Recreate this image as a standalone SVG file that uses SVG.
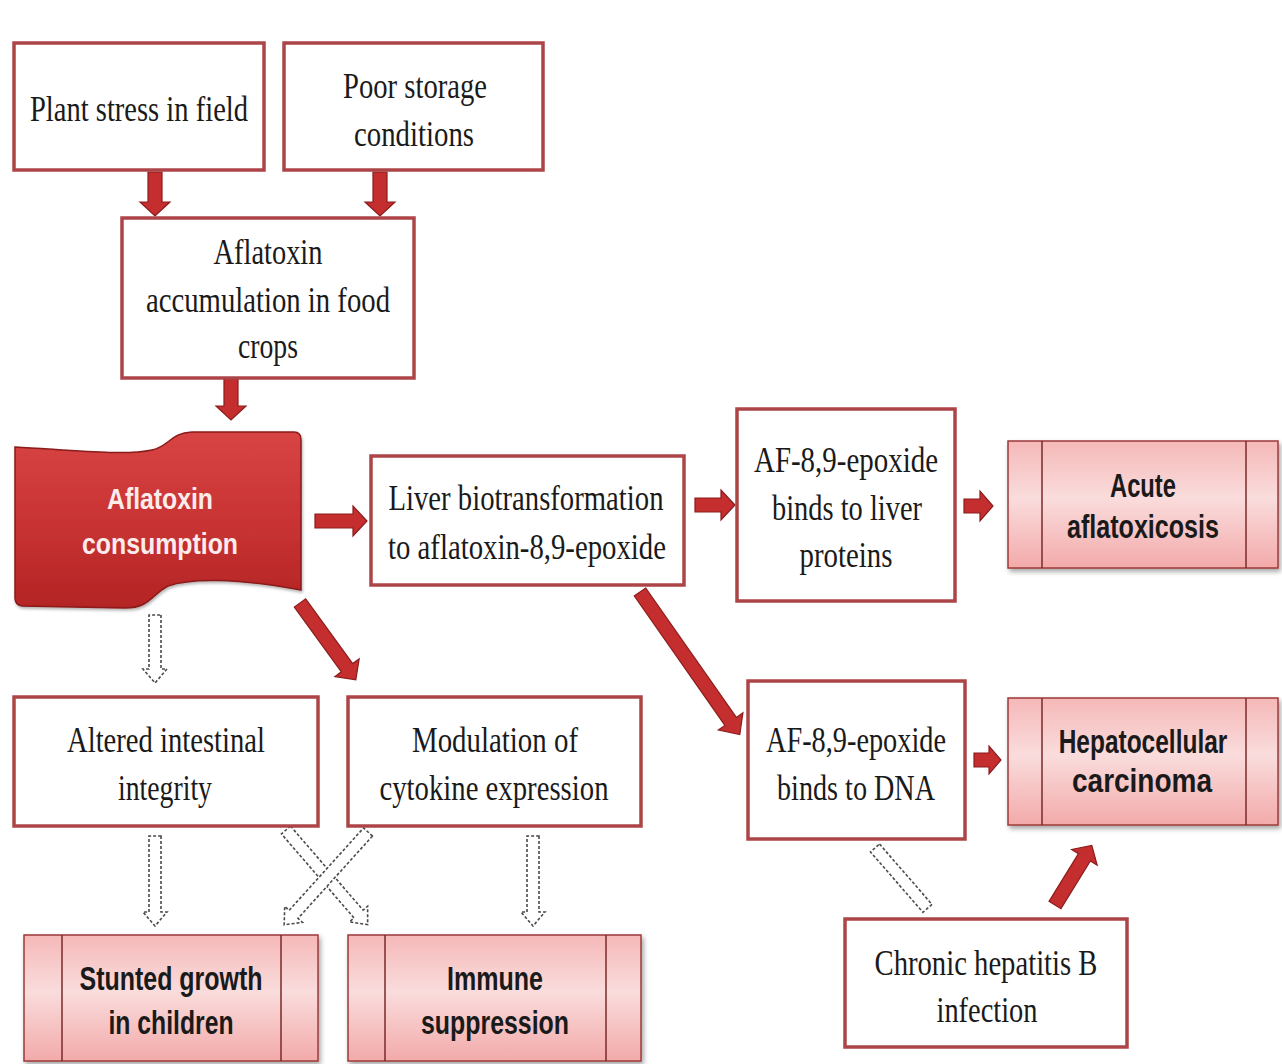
<svg xmlns="http://www.w3.org/2000/svg" width="1282" height="1064" viewBox="0 0 1282 1064">
<defs>
<linearGradient id="pink" x1="0" y1="0" x2="0" y2="1">
<stop offset="0" stop-color="#f5b8b8"/>
<stop offset="0.45" stop-color="#fadcdc"/>
<stop offset="1" stop-color="#f3aaaa"/>
</linearGradient>
<linearGradient id="banner" x1="0" y1="0" x2="0" y2="1">
<stop offset="0" stop-color="#d84444"/>
<stop offset="0.5" stop-color="#c93333"/>
<stop offset="1" stop-color="#b42424"/>
</linearGradient>
<filter id="sh" x="-10%" y="-10%" width="125%" height="130%">
<feDropShadow dx="2" dy="3" stdDeviation="2.5" flood-color="#000" flood-opacity="0.35"/>
</filter>
<filter id="sh2" x="-10%" y="-10%" width="125%" height="130%">
<feDropShadow dx="1" dy="2" stdDeviation="1.5" flood-color="#000" flood-opacity="0.3"/>
</filter>
</defs>
<style>
.box{fill:#fff;stroke:#ad4447;stroke-width:3.5;}
.pbox{fill:url(#pink);stroke:#9c3a3a;stroke-width:1.5;}
.pline{stroke:#7a2a2a;stroke-width:1.5;}
.t{font-family:"Liberation Serif","Times New Roman",serif;font-size:36px;fill:#1a1a1a;text-anchor:middle;}
.b{font-family:"Liberation Sans",Arial,sans-serif;font-weight:bold;font-size:34px;fill:#1a1a1a;text-anchor:middle;}
.w{font-family:"Liberation Sans",Arial,sans-serif;font-weight:bold;font-size:30px;fill:#fbecec;text-anchor:middle;}
.ra{fill:#c42e2e;stroke:#8c1c1c;stroke-width:1.2;}
.da{fill:#fff;stroke:#4a4a4a;stroke-width:1.6;stroke-dasharray:3 2;}
</style>
<rect width="1282" height="1064" fill="#fff"/>

<g id="connectors">
<path class="ra" transform="translate(155,172) rotate(90)" d="M0,-7 H30 V-15 L44,0 L30,15 V7 H0 Z"/>
<path class="ra" transform="translate(380,172) rotate(90)" d="M0,-7 H30 V-15 L44,0 L30,15 V7 H0 Z"/>
<path class="ra" transform="translate(231,379) rotate(90)" d="M0,-7 H27 V-15 L41,0 L27,15 V7 H0 Z"/>
<path class="ra" transform="translate(315,521)" d="M0,-7 H38 V-15 L52,0 L38,15 V7 H0 Z"/>
<path class="ra" transform="translate(695,505)" d="M0,-7 H26 V-15 L40,0 L26,15 V7 H0 Z"/>
<path class="ra" transform="translate(964,506)" d="M0,-7 H16 V-15 L29,0 L16,15 V7 H0 Z"/>
<path class="ra" transform="translate(974,760)" d="M0,-7 H15 V-14 L27,0 L15,14 V7 H0 Z"/>
<path class="ra" transform="translate(640,592) rotate(55)" d="M0,-7 H158 V-15 L174,0 L158,15 V7 H0 Z"/>
<path class="ra" transform="translate(300,603) rotate(54)" d="M0,-7 H80 V-15 L95,0 L80,15 V7 H0 Z"/>
<path class="ra" transform="translate(1055,905) rotate(-58.3)" d="M0,-7 H56 V-15 L70,0 L56,15 V7 H0 Z"/>
<path class="da" transform="translate(155,615) rotate(90)" d="M0,-6 H54 V-12 L68,0 L54,12 V6 H0 Z"/>
<path class="da" transform="translate(155,836) rotate(90)" d="M0,-6 H76 V-12 L90,0 L76,12 V6 H0 Z"/>
<path class="da" transform="translate(533,836) rotate(90)" d="M0,-6 H76 V-12 L90,0 L76,12 V6 H0 Z"/>
<path class="da" transform="translate(286,830) rotate(49.2)" d="M0,-6 H111 V-12 L125,0 L111,12 V6 H0 Z"/>
<path class="da" transform="translate(368,832) rotate(132.1)" d="M0,-6 H111 V-12 L125,0 L111,12 V6 H0 Z"/>
<path class="da" transform="translate(875,848) rotate(49)" d="M0,-6 H80 V6 H0 Z"/>
</g>

<g id="plant-stress">
<rect class="box" x="14" y="43" width="250" height="127"/>
<text class="t" x="139" y="121" textLength="218" lengthAdjust="spacingAndGlyphs">Plant stress in field</text>
</g>
<g id="poor-storage">
<rect class="box" x="284" y="43" width="259" height="127"/>
<text class="t" x="415" y="98" textLength="144" lengthAdjust="spacingAndGlyphs">Poor storage</text>
<text class="t" x="414" y="146" textLength="120" lengthAdjust="spacingAndGlyphs">conditions</text>
</g>
<g id="accumulation">
<rect class="box" x="122" y="218" width="292" height="160"/>
<text class="t" x="268" y="264" textLength="109" lengthAdjust="spacingAndGlyphs">Aflatoxin</text>
<text class="t" x="268" y="312" textLength="244" lengthAdjust="spacingAndGlyphs">accumulation in food</text>
<text class="t" x="268" y="358" textLength="60" lengthAdjust="spacingAndGlyphs">crops</text>
</g>
<g id="consumption">
<path filter="url(#sh2)" fill="url(#banner)" stroke="#8a1a1a" stroke-width="1.5" d="M15,447 C70,450 125,456 152,450 C170,446 170,433 192,432 L294,432 Q301,432 301,440 L301,590 C235,578 190,578 168,586 C152,594 150,608 125,608 L22,606 Q15,605 15,598 Z"/>
<text class="w" x="160" y="509" textLength="106" lengthAdjust="spacingAndGlyphs">Aflatoxin</text>
<text class="w" x="160" y="554" textLength="156" lengthAdjust="spacingAndGlyphs">consumption</text>
</g>
<g id="liver">
<rect class="box" x="371" y="456" width="313" height="129"/>
<text class="t" x="526" y="510" textLength="275" lengthAdjust="spacingAndGlyphs">Liver biotransformation</text>
<text class="t" x="527" y="559" textLength="278" lengthAdjust="spacingAndGlyphs">to aflatoxin-8,9-epoxide</text>
</g>
<g id="proteins">
<rect class="box" x="737" y="409" width="218" height="192"/>
<text class="t" x="846" y="472" textLength="184" lengthAdjust="spacingAndGlyphs">AF-8,9-epoxide</text>
<text class="t" x="847" y="520" textLength="150" lengthAdjust="spacingAndGlyphs">binds to liver</text>
<text class="t" x="846" y="567" textLength="93" lengthAdjust="spacingAndGlyphs">proteins</text>
</g>
<g id="acute">
<rect class="pbox" filter="url(#sh)" x="1008" y="441" width="270" height="127"/>
<line class="pline" x1="1042" y1="441" x2="1042" y2="568"/>
<line class="pline" x1="1246" y1="441" x2="1246" y2="568"/>
<text class="b" x="1143" y="497" textLength="66" lengthAdjust="spacingAndGlyphs">Acute</text>
<text class="b" x="1143" y="538" textLength="152" lengthAdjust="spacingAndGlyphs">aflatoxicosis</text>
</g>
<g id="dna">
<rect class="box" x="748" y="681" width="217" height="158"/>
<text class="t" x="856" y="752" textLength="180" lengthAdjust="spacingAndGlyphs">AF-8,9-epoxide</text>
<text class="t" x="856" y="800" textLength="158" lengthAdjust="spacingAndGlyphs">binds to DNA</text>
</g>
<g id="hcc">
<rect class="pbox" filter="url(#sh)" x="1008" y="698" width="270" height="127"/>
<line class="pline" x1="1042" y1="698" x2="1042" y2="825"/>
<line class="pline" x1="1246" y1="698" x2="1246" y2="825"/>
<text class="b" transform="translate(1143,753) scale(0.72,1)" x="0" y="0">Hepatocellular</text>
<text class="b" x="1142" y="792" textLength="140" lengthAdjust="spacingAndGlyphs">carcinoma</text>
</g>
<g id="hepatitis">
<rect class="box" x="845" y="919" width="282" height="128"/>
<text class="t" x="986" y="975" textLength="223" lengthAdjust="spacingAndGlyphs">Chronic hepatitis B</text>
<text class="t" x="987" y="1022" textLength="101" lengthAdjust="spacingAndGlyphs">infection</text>
</g>
<g id="intestinal">
<rect class="box" x="14" y="697" width="304" height="129"/>
<text class="t" x="166" y="752" textLength="198" lengthAdjust="spacingAndGlyphs">Altered intestinal</text>
<text class="t" x="165" y="800" textLength="94" lengthAdjust="spacingAndGlyphs">integrity</text>
</g>
<g id="cytokine">
<rect class="box" x="348" y="697" width="293" height="129"/>
<text class="t" x="495" y="752" textLength="166" lengthAdjust="spacingAndGlyphs">Modulation of</text>
<text class="t" x="494" y="800" textLength="229" lengthAdjust="spacingAndGlyphs">cytokine expression</text>
</g>
<g id="stunted">
<rect class="pbox" filter="url(#sh)" x="24" y="935" width="294" height="126"/>
<line class="pline" x1="62" y1="935" x2="62" y2="1061"/>
<line class="pline" x1="281" y1="935" x2="281" y2="1061"/>
<text class="b" x="171" y="990" textLength="183" lengthAdjust="spacingAndGlyphs">Stunted growth</text>
<text class="b" x="171" y="1034" textLength="125" lengthAdjust="spacingAndGlyphs">in children</text>
</g>
<g id="immune">
<rect class="pbox" filter="url(#sh)" x="348" y="935" width="293" height="126"/>
<line class="pline" x1="385" y1="935" x2="385" y2="1061"/>
<line class="pline" x1="606" y1="935" x2="606" y2="1061"/>
<text class="b" x="495" y="990" textLength="96" lengthAdjust="spacingAndGlyphs">Immune</text>
<text class="b" x="495" y="1034" textLength="148" lengthAdjust="spacingAndGlyphs">suppression</text>
</g>
</svg>
